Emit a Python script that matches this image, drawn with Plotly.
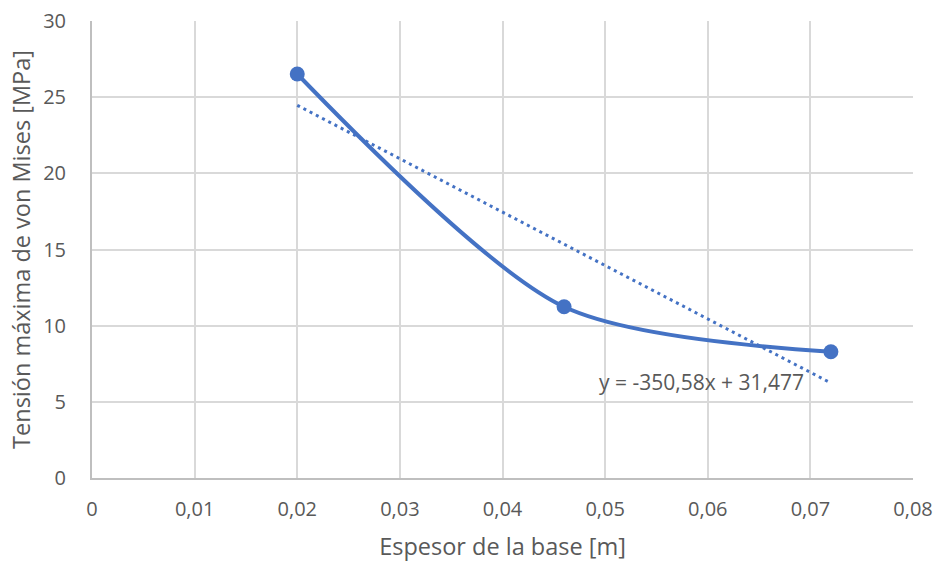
import plotly.graph_objects as go

# Measured data: base thickness [m] vs maximum von Mises stress [MPa]
espesor = [0.02, 0.046, 0.072]
tension = [26.52, 11.24, 8.29]

# Linear trendline coefficients (y = m*x + b)
pendiente = -350.58
ordenada = 31.477
trend_x = [espesor[0], espesor[-1]]
trend_y = [pendiente * x + ordenada for x in trend_x]

azul = "#4472C4"
gris_texto = "#595959"
fuente = "'Open Sans', sans-serif"

fig = go.Figure()

fig.add_trace(go.Scatter(
    x=trend_x, y=trend_y, mode="lines",
    line=dict(color=azul, width=3, dash="3px,4px"),
    hoverinfo="skip", showlegend=False,
))

fig.add_trace(go.Scatter(
    x=espesor, y=tension, mode="lines+markers",
    line=dict(color=azul, width=4, shape="spline", smoothing=0.8),
    marker=dict(color=azul, size=15),
    showlegend=False,
))

fig.add_annotation(
    x=0.0594, y=6.3, xref="x", yref="y",
    text="y = -350,58x + 31,477", showarrow=False,
    font=dict(family=fuente, size=21, color=gris_texto),
)

fig.update_layout(
    width=935, height=562,
    margin=dict(l=92, r=22, t=21, b=84),
    paper_bgcolor="white", plot_bgcolor="white",
    separators=", ",
    font=dict(family=fuente, size=20, color=gris_texto),
    xaxis=dict(
        range=[0, 0.08], dtick=0.01, tick0=0, automargin=False,
        showgrid=True, gridcolor="#d9d9d9", gridwidth=1.5,
        zeroline=False, showline=True, linecolor="#bfbfbf", linewidth=2,
        ticks="", ticklabelstandoff=12,
        title=dict(text="Espesor de la base [m]", standoff=18,
                   font=dict(size=23.5, color=gris_texto)),
    ),
    yaxis=dict(
        range=[0, 30], dtick=5, automargin=False,
        showgrid=True, gridcolor="#d9d9d9", gridwidth=1.5,
        zeroline=False, showline=True, linecolor="#bfbfbf", linewidth=2,
        ticks="", ticklabelstandoff=20,
        title=dict(text="Tensión máxima de von Mises [MPa]", standoff=6,
                   font=dict(size=23.5, color=gris_texto)),
    ),
)

fig.write_html("out.html")
